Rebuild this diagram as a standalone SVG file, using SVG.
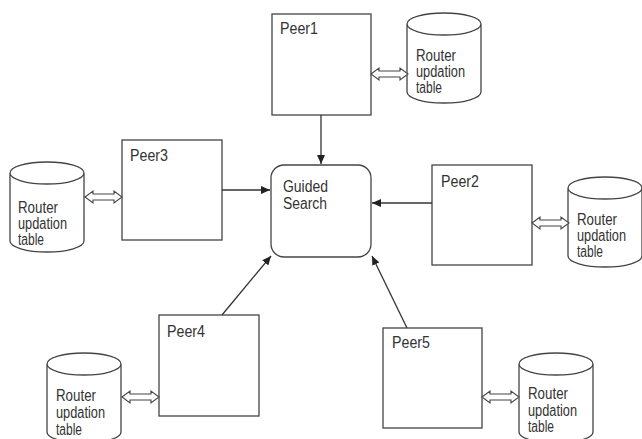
<svg xmlns="http://www.w3.org/2000/svg" width="642" height="439" viewBox="0 0 642 439">
<style>
.box{fill:#fff;stroke:#444;stroke-width:1.3}
.cyl{fill:#fff;stroke:#444;stroke-width:1.3}
.lbl{font-family:"Liberation Sans",Arial,sans-serif;font-size:16px;fill:#333}
.db{font-family:"Liberation Sans",Arial,sans-serif;font-size:16px;fill:#333}
.conn{stroke:#333;stroke-width:1.3;fill:none}
.dbl{fill:#fff;stroke:#444;stroke-width:1.1}
</style>
<defs>
<marker id="ah" markerWidth="10" markerHeight="8" refX="9" refY="4" orient="auto" markerUnits="userSpaceOnUse">
<path d="M0,0 L9,4 L0,8 Z" fill="#222"/>
</marker>
<path id="cylshape" d="M0,11 A37,11 0 0 1 74,11 L74,79 A37,11 0 0 1 0,79 Z M0,11 A37,11 0 0 0 74,11"/>
<path id="dblarrow" d="M0,0 L8,-6 L8,-3 L29,-3 L29,-6 L37,0 L29,6 L29,3 L8,3 L8,6 Z"/>
</defs>
<rect width="642" height="439" fill="#fff"/>

<g id="guided">
<rect class="box" x="271" y="165" width="100" height="92" rx="13" ry="13"/>
<text class="lbl" x="283" y="192" textLength="45" lengthAdjust="spacingAndGlyphs">Guided</text>
<text class="lbl" x="283" y="209" textLength="44" lengthAdjust="spacingAndGlyphs">Search</text>
</g>

<g id="peer1">
<rect class="box" x="272" y="14" width="99" height="101"/>
<text class="lbl" x="280" y="34" textLength="38" lengthAdjust="spacingAndGlyphs">Peer1</text>
</g>
<g id="db1">
<use href="#cylshape" class="cyl" x="407" y="13"/>
<text class="db" x="416" y="61" textLength="40" lengthAdjust="spacingAndGlyphs">Router</text>
<text class="db" x="416" y="77" textLength="49" lengthAdjust="spacingAndGlyphs">updation</text>
<text class="db" x="416" y="93" textLength="26" lengthAdjust="spacingAndGlyphs">table</text>
</g>

<g id="peer2">
<rect class="box" x="432" y="165" width="100" height="100"/>
<text class="lbl" x="441" y="187" textLength="38" lengthAdjust="spacingAndGlyphs">Peer2</text>
</g>
<g id="db2">
<use href="#cylshape" class="cyl" x="568" y="177"/>
<text class="db" x="577" y="225" textLength="40" lengthAdjust="spacingAndGlyphs">Router</text>
<text class="db" x="577" y="241" textLength="49" lengthAdjust="spacingAndGlyphs">updation</text>
<text class="db" x="577" y="257" textLength="26" lengthAdjust="spacingAndGlyphs">table</text>
</g>

<g id="peer3">
<rect class="box" x="122" y="140" width="100" height="100"/>
<text class="lbl" x="130" y="161" textLength="38" lengthAdjust="spacingAndGlyphs">Peer3</text>
</g>
<g id="db3">
<use href="#cylshape" class="cyl" x="10" y="162"/>
<text class="db" x="18" y="213" textLength="40" lengthAdjust="spacingAndGlyphs">Router</text>
<text class="db" x="18" y="229" textLength="49" lengthAdjust="spacingAndGlyphs">updation</text>
<text class="db" x="18" y="245" textLength="26" lengthAdjust="spacingAndGlyphs">table</text>
</g>

<g id="peer4">
<rect class="box" x="159" y="315" width="100" height="101"/>
<text class="lbl" x="167" y="337" textLength="38" lengthAdjust="spacingAndGlyphs">Peer4</text>
</g>
<g id="db4">
<use href="#cylshape" class="cyl" x="47" y="353"/>
<text class="db" x="56" y="401" textLength="40" lengthAdjust="spacingAndGlyphs">Router</text>
<text class="db" x="56" y="418" textLength="49" lengthAdjust="spacingAndGlyphs">updation</text>
<text class="db" x="56" y="435" textLength="26" lengthAdjust="spacingAndGlyphs">table</text>
</g>

<g id="peer5">
<rect class="box" x="383" y="328" width="99" height="100"/>
<text class="lbl" x="392" y="348" textLength="38" lengthAdjust="spacingAndGlyphs">Peer5</text>
</g>
<g id="db5">
<use href="#cylshape" class="cyl" x="519" y="353"/>
<text class="db" x="528" y="399" textLength="40" lengthAdjust="spacingAndGlyphs">Router</text>
<text class="db" x="528" y="416" textLength="49" lengthAdjust="spacingAndGlyphs">updation</text>
<text class="db" x="528" y="432" textLength="26" lengthAdjust="spacingAndGlyphs">table</text>
</g>

<g id="connectors">
<line class="conn" x1="321" y1="115" x2="321" y2="164" marker-end="url(#ah)"/>
<line class="conn" x1="432" y1="203" x2="372" y2="203" marker-end="url(#ah)"/>
<line class="conn" x1="222" y1="190" x2="270" y2="190" marker-end="url(#ah)"/>
<line class="conn" x1="222" y1="315" x2="271" y2="256" marker-end="url(#ah)"/>
<line class="conn" x1="407" y1="328" x2="372" y2="256" marker-end="url(#ah)"/>
<use href="#dblarrow" class="dbl" x="371" y="74"/>
<use href="#dblarrow" class="dbl" x="532" y="223"/>
<use href="#dblarrow" class="dbl" x="85" y="197"/>
<use href="#dblarrow" class="dbl" x="122" y="397"/>
<use href="#dblarrow" class="dbl" x="482" y="397"/>
</g>
</svg>
